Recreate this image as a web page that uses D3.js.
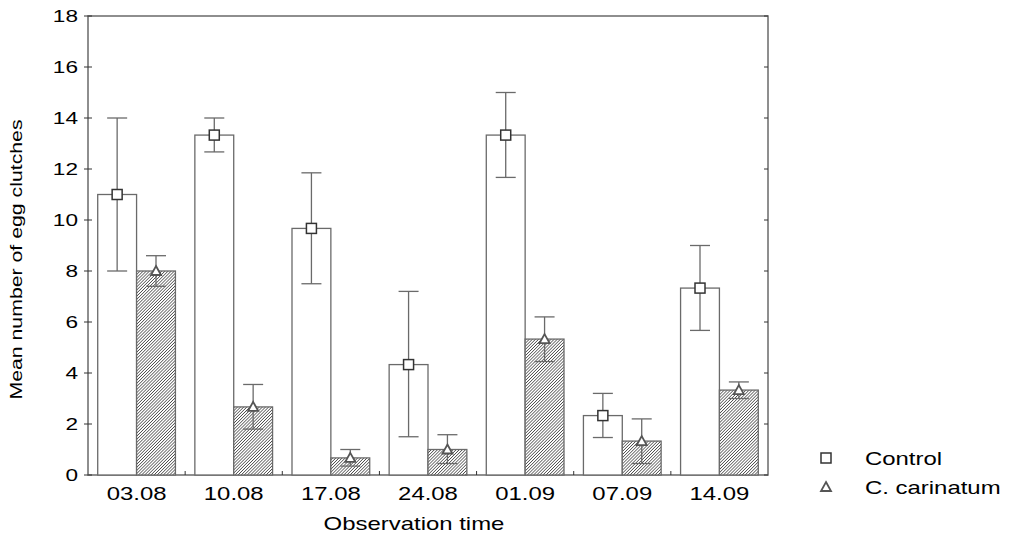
<!DOCTYPE html>
<html><head><meta charset="utf-8">
<script src="https://cdn.jsdelivr.net/npm/d3@7"></script>
<style>body{margin:0;background:#fff}text{font-family:"Liberation Sans",Arial,sans-serif;fill:#000}</style>
</head><body><svg id="c" width="1017" height="539"></svg>
<script>
const dates = ["03.08","10.08","17.08","24.08","01.09","07.09","14.09"];
const controlMean = [11, 13.33, 9.67, 4.33, 13.33, 2.33, 7.33];
const controlLo = [8, 12.67, 7.5, 1.5, 11.67, 1.47, 5.67];
const controlHi = [14, 14, 11.85, 7.2, 15, 3.2, 9];
const carMean = [8, 2.67, 0.67, 1, 5.33, 1.33, 3.33];
const carLo = [7.4, 1.8, 0.35, 0.45, 4.45, 0.45, 3.0];
const carHi = [8.6, 3.55, 1.0, 1.58, 6.2, 2.2, 3.65];
const yTicks = d3.range(0, 19, 2);

const svg = d3.select("#c");
const L = 88, R = 768, T = 16, B = 475;
const gray = "#6a6a6a";
const SX = 1.33;

// stretched text, like the original export
function label(x, y, s, size, anchor, rot) {
  const g = svg.append("g").attr("transform", `translate(${x},${y})${rot ? " rotate(-90)" : ""} scale(${SX},1)`);
  g.append("text").attr("text-anchor", anchor).attr("font-size", size).text(s);
}

const defs = svg.append("defs");
const pat = defs.append("pattern").attr("id", "hatch").attr("patternUnits", "userSpaceOnUse")
  .attr("width", 2.2).attr("height", 2.2).attr("patternTransform", "rotate(45)");
pat.append("rect").attr("width", 2.2).attr("height", 2.2).attr("fill", "#fff");
pat.append("line").attr("x1", 0).attr("y1", 0).attr("x2", 0).attr("y2", 2.2).attr("stroke", "#333").attr("stroke-width", 1.3);

const x = d3.scaleBand().domain(dates).range([L, R]);
const y = d3.scaleLinear().domain([0, 18]).range([B, T]);
const bw = x.bandwidth() * 0.4;

svg.append("rect").attr("x", L).attr("y", T).attr("width", R - L).attr("height", B - T)
  .attr("fill", "none").attr("stroke", gray).attr("stroke-width", 1.5);

yTicks.forEach(v => {
  svg.append("line").attr("x1", L - 4).attr("x2", L + 4).attr("y1", y(v)).attr("y2", y(v)).attr("stroke", "#333");
  svg.append("line").attr("x1", R - 4).attr("x2", R).attr("y1", y(v)).attr("y2", y(v)).attr("stroke", "#333");
  label(L - 10, y(v) + 6, v, 17, "end");
});
dates.forEach((d, i) => {
  if (i > 0) svg.append("line").attr("x1", x(d)).attr("x2", x(d)).attr("y1", B).attr("y2", B - 4).attr("stroke", "#333");
  label(x(d) + x.bandwidth() / 2, B + 25, d, 18, "middle");
});

function series(mean, lo, hi, off, fill, marker) {
  const g = svg.append("g");
  dates.forEach((d, i) => {
    const cx = x(d) + x.bandwidth() / 2 + off * bw;
    g.append("rect").attr("x", cx - bw / 2).attr("y", y(mean[i])).attr("width", bw)
      .attr("height", B - y(mean[i])).attr("fill", fill).attr("stroke", gray).attr("stroke-width", 1.3);
    g.append("line").attr("x1", cx).attr("x2", cx).attr("y1", y(lo[i])).attr("y2", y(hi[i])).attr("stroke", gray).attr("stroke-width", 1.3);
    [lo[i], hi[i]].forEach(v => g.append("line").attr("x1", cx - 10).attr("x2", cx + 10)
      .attr("y1", y(v)).attr("y2", y(v)).attr("stroke", gray).attr("stroke-width", 1.3));
    marker(g, cx, y(mean[i]));
  });
}
const sq = (g, cx, cy) => g.append("rect").attr("x", cx - 5).attr("y", cy - 5).attr("width", 10).attr("height", 10)
  .attr("fill", "#fff").attr("stroke", "#333").attr("stroke-width", 1.5);
const tri = (g, cx, cy) => g.append("path").attr("d", `M${cx},${cy - 5}L${cx + 5},${cy + 4}L${cx - 5},${cy + 4}Z`)
  .attr("fill", "#fff").attr("stroke", "#555").attr("stroke-width", 1.8);

series(controlMean, controlLo, controlHi, -0.5, "#fff", sq);
series(carMean, carLo, carHi, 0.5, "url(#hatch)", tri);

label((L + R) / 2 - 14, 530, "Observation time", 18, "middle");
label(22, (T + B) / 2 + 14, "Mean number of egg clutches", 16, "middle", true);

sq(svg, 826, 458);
label(865, 465, "Control", 18, "start");
tri(svg, 826, 487);
label(865, 494, "C. carinatum", 18, "start");
</script></body></html>
